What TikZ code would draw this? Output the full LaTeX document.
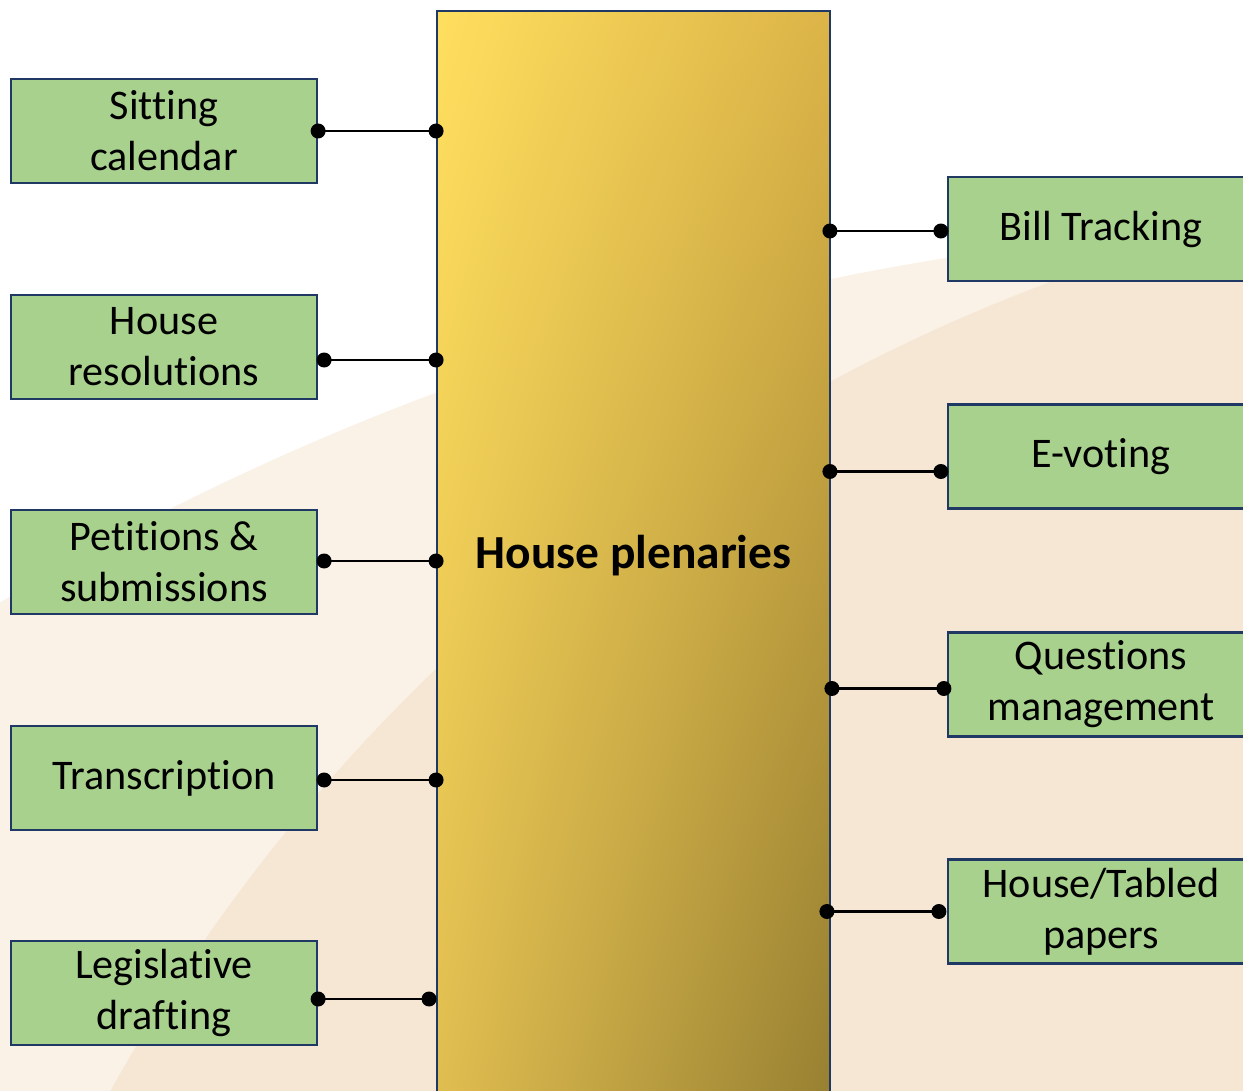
\documentclass[tikz,border=0pt]{standalone}
\usepackage{fontspec}
\setmainfont{Carlito}[Ligatures=NoCommon]
\usepackage{xcolor}
\usetikzlibrary{positioning,shadings}
\definecolor{taskgreen}{HTML}{A9D18E}
\definecolor{taskedge}{HTML}{203864}
\definecolor{sandlight}{HTML}{FAF2E7}
\definecolor{sanddark}{HTML}{F6E7D4}
\definecolor{goldTL}{HTML}{FFDF5E}
\definecolor{goldTR}{HTML}{DCB448}
\definecolor{goldBL}{HTML}{E0BD50}
\definecolor{goldBR}{HTML}{978032}
\tikzset{
  task/.style={draw=taskedge,line width=1.3pt,fill=taskgreen,minimum width=6.12cm,
    minimum height=2.08cm,inner sep=0pt,align=center,font=\fontsize{24}{29}\selectfont},
  plenary/.style={draw=taskedge,line width=1.1pt,minimum width=7.86cm,minimum height=21.8cm,
    upper left=goldTL,upper right=goldTR,lower left=goldBL,lower right=goldBR,
    font=\fontsize{27}{32}\selectfont\bfseries},
  link/.style={line width=1.4pt,black}
}
\begin{document}
\begin{tikzpicture}[x=0.02cm,y=-0.02cm]
\useasboundingbox (0,0) rectangle (1243,1091);
\clip (0,0) rectangle (1243,1091);
\fill[white] (0,0) rectangle (1243,1091);
\fill[sandlight] (1374,2904) circle[radius=2680];
\fill[sanddark] (1678,1962) circle[radius=1793];

\node[plenary] (plen) at (633.5,555.5) {House plenaries};

\node[task] (sit) at (164,131) {Sitting\\calendar};
\node[task] (res) at (164,347) {House\\resolutions};
\node[task] (pet) at (164,562) {Petitions \&\\submissions};
\node[task] (trans) at (164,778) {Transcription};
\node[task] (leg) at (164,993) {Legislative\\drafting};

\node[task] (bill) at (1101,229) {Bill Tracking};
\node[task] (evote) at (1101,456.5) {E-voting};
\node[task] (quest) at (1101,684.5) {Questions\\management};
\node[task] (paper) at (1101,911.5) {House/Tabled\\papers};

\coordinate (sitdot) at (sit.east);
\coordinate (resdot) at ([shift={(6,13)}]res.east);
\coordinate (petdot) at ([shift={(6,-1)}]pet.east);
\coordinate (transdot) at ([shift={(6,2)}]trans.east);
\coordinate (legdot) at ([shift={(0,6)}]leg.east);
\coordinate (plensit) at (sitdot -| plen.west);
\coordinate (plenres) at (resdot -| plen.west);
\coordinate (plenpet) at (petdot -| plen.west);
\coordinate (plentrans) at (transdot -| plen.west);
\coordinate (plenleg) at ([shift={(-7,0)}]legdot -| plen.west);
\draw[link] (sitdot) -- (plensit);
\draw[link] (resdot) -- (plenres);
\draw[link] (petdot) -- (plenpet);
\draw[link] (transdot) -- (plentrans);
\draw[link] (legdot) -- (plenleg);
\fill (sitdot) circle[radius=7.5] (plensit) circle[radius=7.5];
\fill (resdot) circle[radius=7.5] (plenres) circle[radius=7.5];
\fill (petdot) circle[radius=7.5] (plenpet) circle[radius=7.5];
\fill (transdot) circle[radius=7.5] (plentrans) circle[radius=7.5];
\fill (legdot) circle[radius=7.5] (plenleg) circle[radius=7.5];

\coordinate (billdot) at ([shift={(-6,2)}]bill.west);
\coordinate (evotedot) at ([shift={(-6,15)}]evote.west);
\coordinate (questdot) at ([shift={(-3,4)}]quest.west);
\coordinate (paperdot) at ([shift={(-8,0)}]paper.west);
\coordinate (plenbill) at ([shift={(-1,0)}]billdot -| plen.east);
\coordinate (plenevote) at ([shift={(-1,0)}]evotedot -| plen.east);
\coordinate (plenquest) at ([shift={(1,0)}]questdot -| plen.east);
\coordinate (plenpaper) at ([shift={(-4,0)}]paperdot -| plen.east);
\draw[link] (plenbill) -- (billdot);
\draw[link] (plenevote) -- (evotedot);
\draw[link] (plenquest) -- (questdot);
\draw[link] (plenpaper) -- (paperdot);
\fill (billdot) circle[radius=7.5] (plenbill) circle[radius=7.5];
\fill (evotedot) circle[radius=7.5] (plenevote) circle[radius=7.5];
\fill (questdot) circle[radius=7.5] (plenquest) circle[radius=7.5];
\fill (paperdot) circle[radius=7.5] (plenpaper) circle[radius=7.5];
\end{tikzpicture}
\end{document}
